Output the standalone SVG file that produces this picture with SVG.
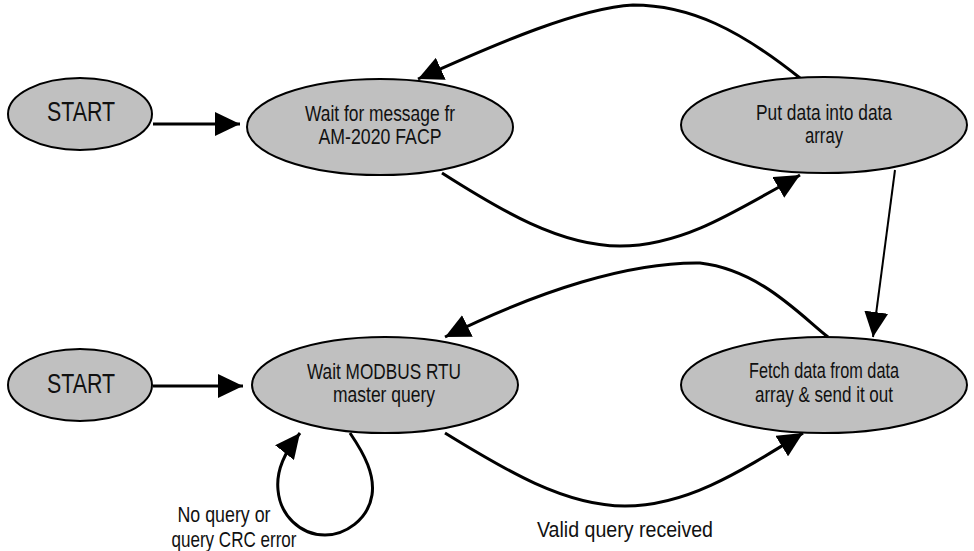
<svg xmlns="http://www.w3.org/2000/svg" width="974" height="551" viewBox="0 0 974 551">
<style>
.n{fill:#c0c0c0;stroke:#000;stroke-width:2}
.t{font-family:"Liberation Sans Narrow","Liberation Sans",Arial,sans-serif;fill:#111;text-anchor:middle}
.s{font-size:27px}
.m{font-size:21.5px}
.c{fill:none;stroke:#000;stroke-width:3}
.thin{stroke-width:2}
</style>
<defs>
<marker id="ah" viewBox="0 0 25 24" refX="25" refY="12" markerWidth="25" markerHeight="24" markerUnits="userSpaceOnUse" orient="auto">
<path d="M0,0 L25,12 L0,24 z" fill="#000"/>
</marker>
</defs>
<rect width="974" height="551" fill="#fff"/>
<g id="connectors">
<path class="c" d="M153,124 L240,124" marker-end="url(#ah)"/>
<path class="c" d="M800,78 C740,30 690,5 633,5 C580,8 500,42 418,79" marker-end="url(#ah)"/>
<path class="c" d="M442,173 C500,210 560,246 620,246 C680,246 730,215 800,175" marker-end="url(#ah)"/>
<path class="c thin" d="M895,170 L873,337" marker-end="url(#ah)"/>
<path class="c" d="M828,337 C800,315 760,270 700,263 C630,262 540,290 445,337" marker-end="url(#ah)"/>
<path class="c" d="M153,386 L243,386" marker-end="url(#ah)"/>
<path class="c" d="M445,433 C505,470 565,506 625,506 C685,506 735,475 803,433" marker-end="url(#ah)"/>
<path class="c" d="M350,433 C365,455 375,475 372,495 C368,520 345,535 325,535 C300,535 280,515 278,490 C276,470 285,452 300,433" marker-end="url(#ah)"/>
<text class="t m" x="224" y="522" textLength="93" lengthAdjust="spacingAndGlyphs">No query or</text>
<text class="t m" x="234" y="547" textLength="125" lengthAdjust="spacingAndGlyphs">query CRC error</text>
<text class="t m" x="625" y="537" textLength="176" lengthAdjust="spacingAndGlyphs">Valid query received</text>
</g>
<g id="start1">
<ellipse class="n" cx="80" cy="114" rx="72" ry="36"/>
<text class="t s" x="81" y="121" textLength="68" lengthAdjust="spacingAndGlyphs">START</text>
</g>
<g id="wait-facp">
<ellipse class="n" cx="380" cy="127" rx="133" ry="48"/>
<text class="t m" x="380" y="121" textLength="150" lengthAdjust="spacingAndGlyphs">Wait for message fr</text>
<text class="t m" x="380" y="144" textLength="123" lengthAdjust="spacingAndGlyphs">AM-2020 FACP</text>
</g>
<g id="put-data">
<ellipse class="n" cx="824" cy="125" rx="143" ry="48"/>
<text class="t m" x="824" y="120" textLength="136" lengthAdjust="spacingAndGlyphs">Put data into data</text>
<text class="t m" x="824" y="143" textLength="38" lengthAdjust="spacingAndGlyphs">array</text>
</g>
<g id="start2">
<ellipse class="n" cx="80" cy="385" rx="72" ry="36"/>
<text class="t s" x="81" y="393" textLength="68" lengthAdjust="spacingAndGlyphs">START</text>
</g>
<g id="wait-modbus">
<ellipse class="n" cx="385" cy="385" rx="133" ry="48"/>
<text class="t m" x="384" y="379" textLength="154" lengthAdjust="spacingAndGlyphs">Wait MODBUS RTU</text>
<text class="t m" x="384" y="402" textLength="102" lengthAdjust="spacingAndGlyphs">master query</text>
</g>
<g id="fetch-data">
<ellipse class="n" cx="824" cy="385" rx="143" ry="48"/>
<text class="t m" x="824" y="378" textLength="150" lengthAdjust="spacingAndGlyphs">Fetch data from data</text>
<text class="t m" x="824" y="402" textLength="138" lengthAdjust="spacingAndGlyphs">array &amp; send it out</text>
</g>
</svg>
